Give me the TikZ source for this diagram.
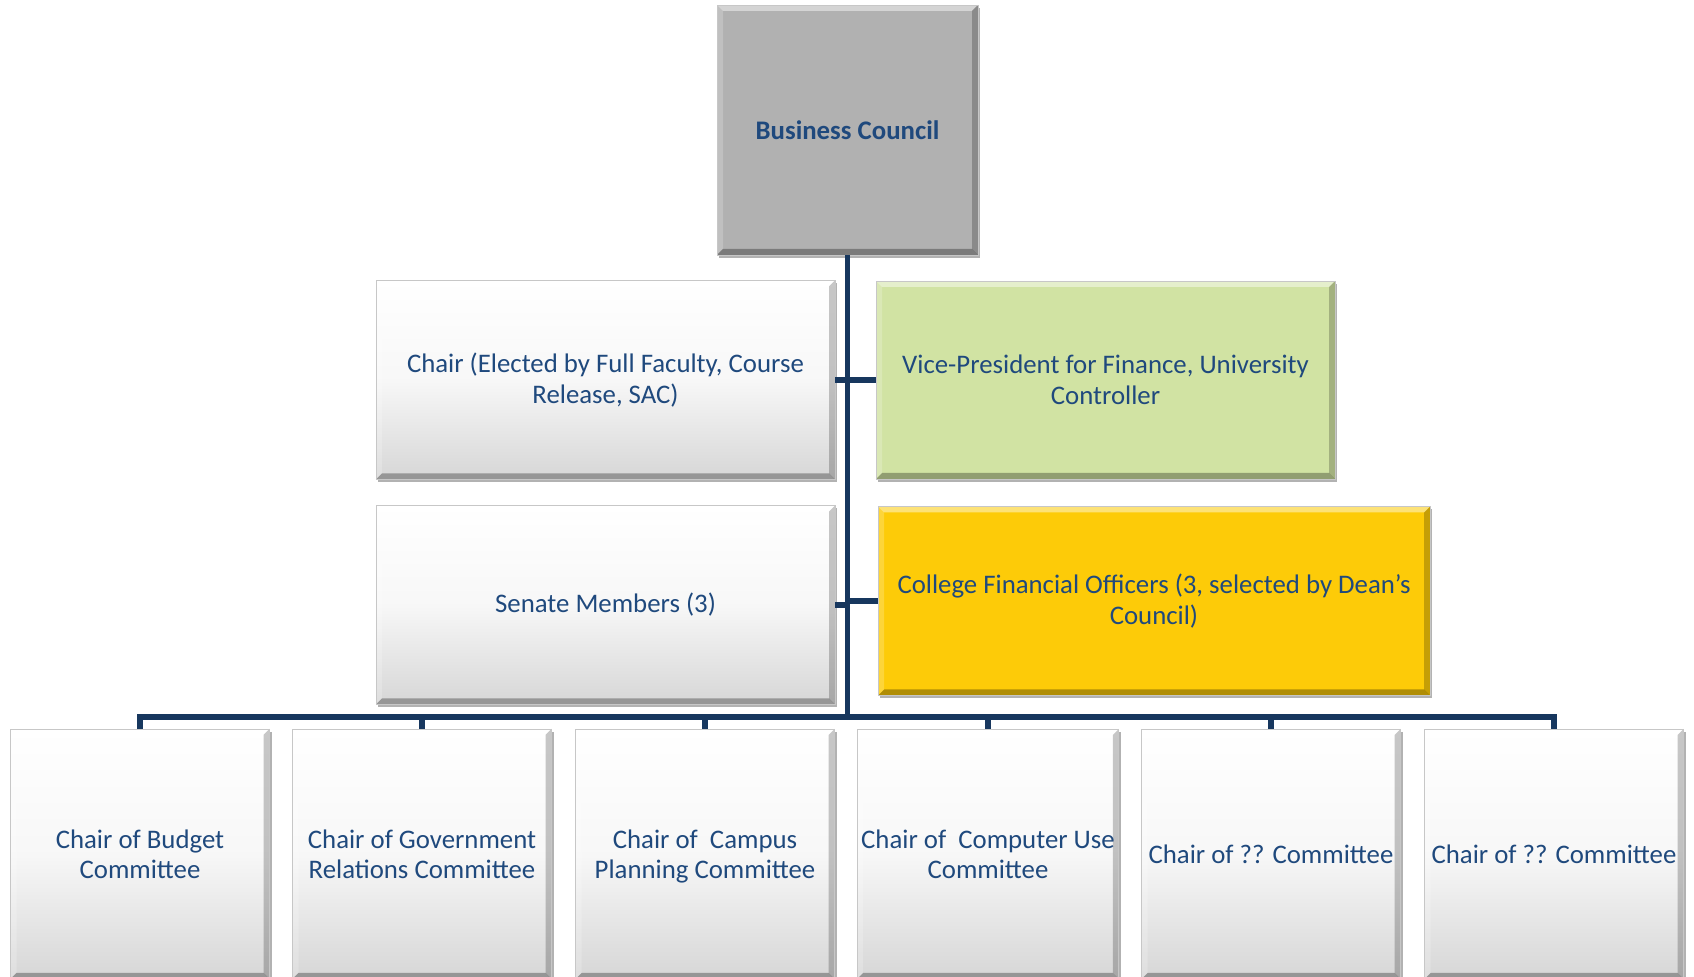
\documentclass[tikz,border=0pt]{standalone}
\usepackage{fontspec}
\setmainfont{Carlito}
\usetikzlibrary{shadows}
\definecolor{txt}{HTML}{1F497D}
\definecolor{navy}{HTML}{17375E}
\definecolor{bcgray}{HTML}{B1B1B1}
\definecolor{vpgreen}{HTML}{D1E3A3}
\definecolor{cfoyellow}{HTML}{FDCB08}
\begin{document}
\begin{tikzpicture}[x=0.5pt,y=-0.5pt,
  bevel/.style={path picture={
    \fill[white,opacity=0.45] (path picture bounding box.north west) -- (path picture bounding box.north east)
      -- ([xshift=-3pt,yshift=-3pt]path picture bounding box.north east) -- ([xshift=3pt,yshift=-3pt]path picture bounding box.north west) -- cycle;
    \fill[white,opacity=0.2] (path picture bounding box.north west) -- ([xshift=3pt,yshift=-3pt]path picture bounding box.north west)
      -- ([xshift=3pt,yshift=3pt]path picture bounding box.south west) -- (path picture bounding box.south west) -- cycle;
    \fill[black,opacity=0.22] (path picture bounding box.north east) -- ([xshift=-3pt,yshift=-3pt]path picture bounding box.north east)
      -- ([xshift=-3pt,yshift=3pt]path picture bounding box.south east) -- (path picture bounding box.south east) -- cycle;
    \fill[black,opacity=0.3] (path picture bounding box.south west) -- (path picture bounding box.south east)
      -- ([xshift=-3pt,yshift=3pt]path picture bounding box.south east) -- ([xshift=3pt,yshift=3pt]path picture bounding box.south west) -- cycle;
  }},
  box/.style={rectangle, draw=black!22, line width=0.4pt, text=txt,
    font=\fontsize{13.4}{15.2}\selectfont, align=center, inner sep=2pt,
    drop shadow={shadow xshift=1.2pt,shadow yshift=-1.4pt,opacity=0.3,fill=black}, bevel},
  plain/.style={box, top color=white, bottom color=black!16, middle color=white!97!black},
  conn/.style={draw=navy, line width=2.6pt}
]
\useasboundingbox (0,0) rectangle (1694,977);
\clip (0,0) rectangle (1694,977);

% nodes
\node[box, fill=bcgray, minimum width=130.5pt, minimum height=125pt, font=\fontsize{13.4}{15.2}\selectfont\bfseries] (bc) at (847.5,130) {Business Council};
\node[plain, minimum width=229.5pt, minimum height=99.5pt] (chair) at (605.5,380) {Chair (Elected by Full Faculty, Course\\Release, SAC)};
\node[box, fill=vpgreen, minimum width=229.5pt, minimum height=99pt] (vp) at (1105.5,380) {Vice-President for Finance, University\\Controller};
\node[plain, minimum width=229.5pt, minimum height=99.5pt] (senate) at (605.5,605) {Senate Members (3)};
\node[box, fill=cfoyellow, minimum width=276pt, minimum height=94.5pt] (cfo) at (1154,601) {College Financial Officers (3, selected by Dean’s\\Council)};

\foreach \i/\x/\t in {1/140/{Chair of Budget\\Committee},
                      2/422/{Chair of Government\\Relations Committee},
                      3/705/{Chair of\ \ Campus\\\smash{Planning Committee}},
                      4/988/{Chair of\ \ Computer Use\\Committee},
                      5/1271/{Chair of ?? Committee},
                      6/1554/{Chair of ?? Committee}}{
  \node[plain, minimum width=129.5pt, minimum height=125pt] (b\i) at (\x,854) {\t};
}

\coordinate (busR) at (1554,717);

% connectors
\draw[conn] (bc.south) -- (bc.south |- busR);
\draw[conn] (chair.east) -- (vp.west);
\draw[conn] (senate.east) -- (senate.east -| bc.south);
\draw[conn] (cfo.west) -- (cfo.west -| bc.south);
\draw[conn] (b1.north) |- (busR) -- (b6.north);
\foreach \i in {2,3,4,5}{
  \draw[conn] (b\i.north) -- (b\i.north |- busR);
}
\end{tikzpicture}
\end{document}
